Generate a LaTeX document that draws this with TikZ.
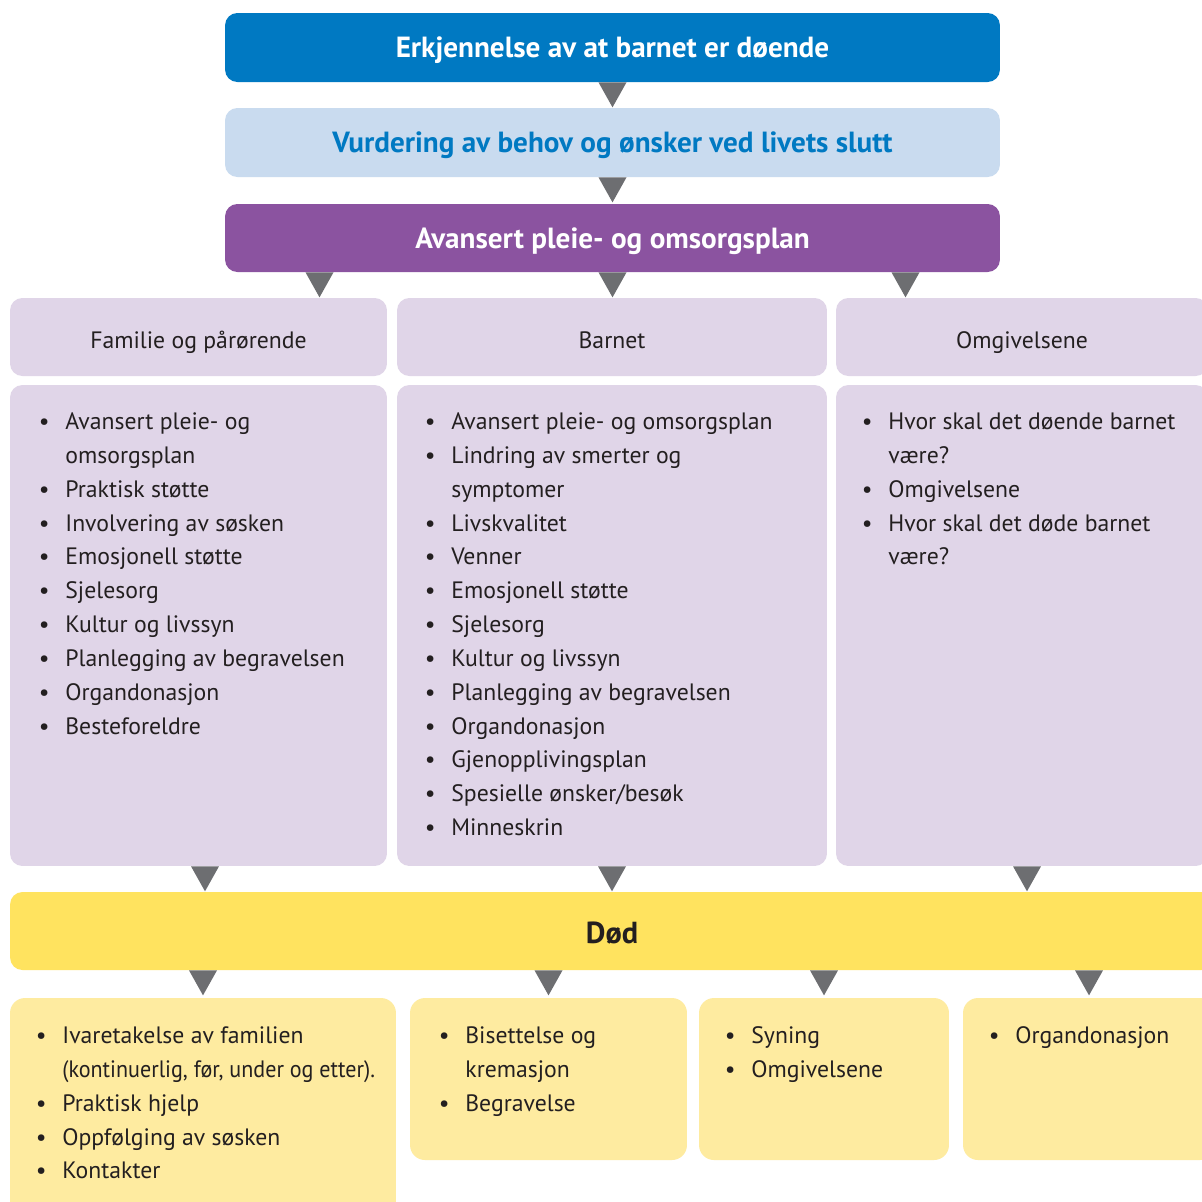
\documentclass[tikz,border=0pt]{standalone}
\usepackage{fontspec}
\usepackage{graphicx}
\setmainfont{PT Sans}
\usetikzlibrary{calc}

\definecolor{erkblaa}{HTML}{0079C2}
\definecolor{lysblaa}{HTML}{C9DBEF}
\definecolor{lilla}{HTML}{8B53A0}
\definecolor{lyslilla}{HTML}{E0D5E8}
\definecolor{pilgraa}{HTML}{6D6E71}
\definecolor{gul}{HTML}{FFE35F}
\definecolor{lysgul}{HTML}{FEEBA0}
\definecolor{tekst}{HTML}{231F20}

\newcommand{\punkt}{\makebox[15.1pt][l]{\textbullet}}
\newcommand{\fort}{\hspace*{15.1pt}}

\tikzset{
  boks/.style={rectangle, rounded corners=7pt, inner sep=0pt},
  topp/.style={boks, minimum width=15.5cm, text height=13pt, text depth=1.6pt,
    font=\bfseries\fontsize{16.6}{19}\selectfont},
  hode/.style={boks, fill=lyslilla, minimum height=1.56cm, text=tekst, text height=15pt, text depth=1.4pt,
    font=\fontsize{13.5}{16}\selectfont},
  innhold/.style={boks, fill=lyslilla, minimum height=9.62cm},
  slutt/.style={boks, rounded corners=8.5pt, fill=lysgul},
  liste/.style={anchor=north west, inner sep=0pt, align=left, text=tekst, font=\fontsize{13.5}{19.26}\selectfont},
  pil/.pic={\fill[pilgraa] (-14,0) -- (14,0) -- (0,25) -- cycle;}
}

\begin{document}
\begin{tikzpicture}[x=0.02cm, y=-0.02cm]
  \clip (0,0) rectangle (1202,1201);
  \fill[white] (0,0) rectangle (1202,1201);

  % toppen
  \node[topp, fill=erkblaa, text=white, minimum height=1.38cm] (erk) at (612.5,47.5) {Erkjennelse av at barnet er døende};
  \node[topp, fill=lysblaa, text=erkblaa, minimum height=1.38cm] (vurd) at (612.5,142.5) {Vurdering av behov og ønsker ved livets slutt};
  \node[topp, fill=lilla, text=white, minimum height=1.36cm] (plan) at (612.5,238) {Avansert pleie- og omsorgsplan};
  \pic at (erk.south) {pil};
  \pic at (vurd.south) {pil};

  % tre kolonner
  \node[hode, minimum width=7.54cm] (famH) at (198.5,337) {Familie og pårørende};
  \node[hode, minimum width=8.6cm] (barnH) at (612,337) {Barnet};
  \node[hode, minimum width=7.44cm] (omgH) at (1022,337) {Omgivelsene};
  \pic at ($(plan.south)+(-293,0)$) {pil};
  \pic at (plan.south) {pil};
  \pic at ($(plan.south)+(293,0)$) {pil};

  \node[innhold, minimum width=7.54cm] (famI) at (198.5,625.5) {};
  \node[innhold, minimum width=8.6cm] (barnI) at (612,625.5) {};
  \node[innhold, minimum width=7.44cm] (omgI) at (1022,625.5) {};

  \node[liste] (famT) at (38.5,405.5) {\strut\punkt Avansert pleie- og\\
    \fort omsorgsplan\\
    \punkt Praktisk støtte\\
    \punkt Involvering av søsken\\
    \punkt Emosjonell støtte\\
    \punkt Sjelesorg\\
    \punkt Kultur og livssyn\\
    \punkt Planlegging av begravelsen\\
    \punkt Organdonasjon\\
    \punkt Besteforeldre};
  \node[liste] (barnT) at (424.5,405.5) {\strut\punkt Avansert pleie- og omsorgsplan\\
    \punkt Lindring av smerter og\\
    \fort symptomer\\
    \punkt Livskvalitet\\
    \punkt Venner\\
    \punkt Emosjonell støtte\\
    \punkt Sjelesorg\\
    \punkt Kultur og livssyn\\
    \punkt Planlegging av begravelsen\\
    \punkt Organdonasjon\\
    \punkt Gjenopplivingsplan\\
    \punkt Spesielle ønsker/besøk\\
    \punkt Minneskrin};
  \node[liste] (omgT) at (861.5,405.5) {\strut\punkt Hvor skal det døende barnet\\
    \fort være?\\
    \punkt Omgivelsene\\
    \punkt Hvor skal det døde barnet\\
    \fort være?};

  % død
  \node[boks, fill=gul, minimum width=24.08cm, minimum height=1.56cm, text=tekst, text height=14.7pt, text depth=0pt,
        font=\bfseries\fontsize{17.3}{20}\selectfont] (dod) at (612,931) {Død};
  \pic at ($(famI.south)+(6.5,0)$) {pil};
  \pic at (barnI.south) {pil};
  \pic at ($(omgI.south)+(5,0)$) {pil};

  % etterpå
  \node[slutt, minimum width=7.72cm, minimum height=4.34cm] (ivar) at (203,1106.5) {};
  \node[slutt, minimum width=5.54cm, minimum height=3.24cm] (bis) at (548.5,1079) {};
  \node[slutt, minimum width=5.0cm, minimum height=3.24cm] (syn) at (824,1079) {};
  \node[slutt, minimum width=5.04cm, minimum height=3.24cm] (organ) at (1089,1079) {};
  \pic at (dod.south -| ivar.north) {pil};
  \pic at (dod.south -| bis.north) {pil};
  \pic at (dod.south -| syn.north) {pil};
  \pic at (dod.south -| organ.north) {pil};

  \node[liste] (ivarT) at (35.5,1019.5) {\strut\punkt Ivaretakelse av familien\\
    \fort \scalebox{0.93}[1]{(kontinuerlig, før, under og etter).}\\
    \punkt Praktisk hjelp\\
    \punkt Oppfølging av søsken\\
    \punkt Kontakter};
  \node[liste] (bisT) at (438.5,1019.5) {\strut\punkt Bisettelse og\\
    \fort kremasjon\\
    \punkt Begravelse};
  \node[liste] (synT) at (724.5,1019.5) {\strut\punkt Syning\\
    \punkt Omgivelsene};
  \node[liste] (organT) at (988.5,1019.5) {\strut\punkt Organdonasjon};
\end{tikzpicture}
\end{document}
